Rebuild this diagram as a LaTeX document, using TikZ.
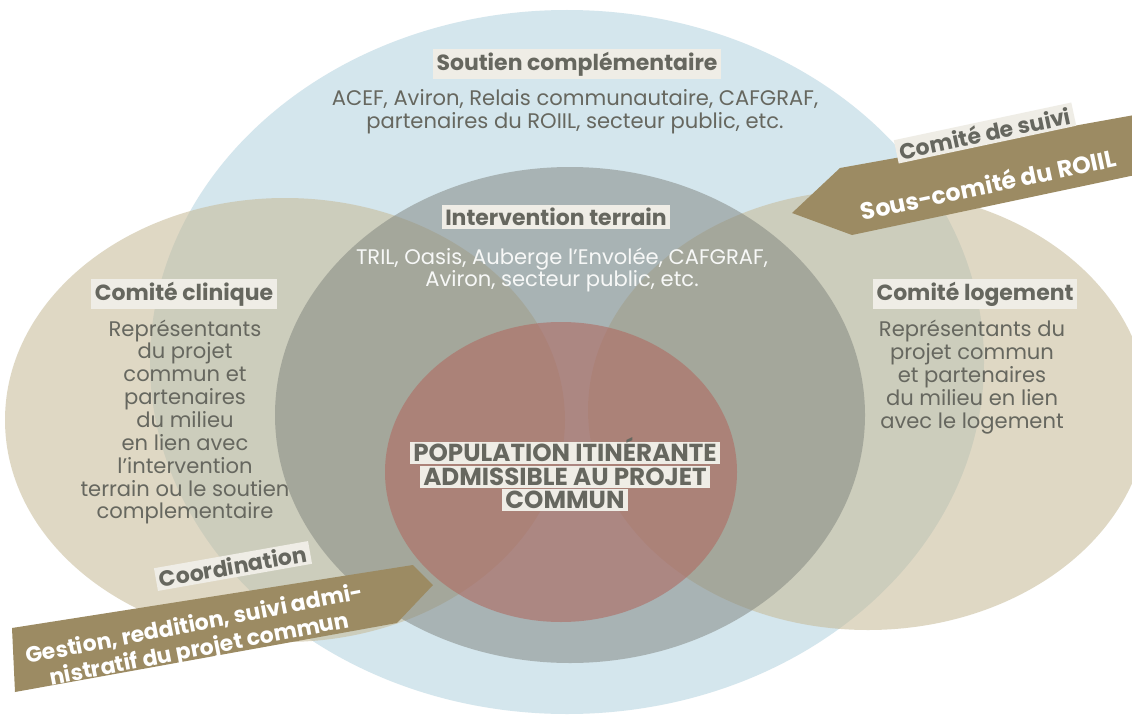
\documentclass[tikz,border=0pt]{standalone}
\usepackage{fontspec}
\setmainfont{Poppins}
\usepackage{tikz}

\definecolor{bleu}{HTML}{D4E6ED}
\definecolor{beige}{HTML}{C6B995}
\definecolor{gris}{HTML}{7E827C}
\definecolor{rouge}{HTML}{B06A62}
\definecolor{brun}{HTML}{9C8B63}
\definecolor{texte}{HTML}{66675F}
\definecolor{creme}{HTML}{EFEDE6}

\begin{document}
\begin{tikzpicture}[x = .02cm, y = -.02cm,
    titre/.style = {fill=creme, text=texte, inner xsep=2pt, inner ysep=1.5pt, font=\bfseries\fontsize{12.5}{14}\selectfont},
    corps/.style = {text=texte, align=center, font=\fontsize{12}{13}\selectfont},
    blanc/.style = {text=white, align=center, font=\bfseries\fontsize{13.5}{15}\selectfont},
    pop/.style = {titre, text height=10pt, text depth=0pt, inner ysep=1.3pt, font=\bfseries\fontsize{14}{15}\selectfont}]
        \useasboundingbox (0,0) rectangle (1132,723);
        \clip (0,0) rectangle (1132,723);
        \fill[white] (0,0) rectangle (1132,723);
        \fill[bleu] (567,362) ellipse [x radius=417, y radius=352];
        \fill[beige, opacity=.55] (285,420) ellipse [x radius=280, y radius=222];
        \fill[beige, opacity=.55] (868,410) ellipse [x radius=280, y radius=220];
        \fill[gris, opacity=.5] (570,415) ellipse [x radius=295, y radius=248];
        \fill[rouge, opacity=.6] (561,472) ellipse [x radius=176, y radius=150];
        \fill[brun] (792,213) -- (840,168) -- (1140,114) -- (1140,174) -- (852,235) -- cycle;
        \fill[brun] (12,628) -- (413,565) -- (433,585) -- (397,623) -- (15,692) -- cycle;
        \node[titre] (soutien) at (577,64) {Soutien complémentaire};
        \node[corps] (soutientxt) at (575,112) {ACEF, Aviron, Relais communautaire, CAFGRAF,\\partenaires du ROIIL, secteur public, etc.};
        \node[titre] (terrain) at (556,217) {Intervention terrain};
        \node[corps, text=white!94!gris] (terraintxt) at (562,270) {TRIL, Oasis, Auberge l'Envolée, CAFGRAF,\\Aviron, secteur public, etc.};
        \node[titre] (clinique) at (184,294) {Comité clinique};
        \node[corps] (cliniquetxt) at (185,422) {Représentants\\du projet\\commun et\\partenaires\\du milieu\\en lien avec\\l'intervention\\terrain ou le soutien\\complementaire};
        \node[titre] (logement) at (975,294) {Comité logement};
        \node[corps] (logementtxt) at (972,377) {Représentants du\\projet commun\\et partenaires\\du milieu en lien\\avec le logement};
        \node[pop] (pop1) at (565,453) {POPULATION ITINÉRANTE};
        \node[pop] (pop2) at (565,477) {ADMISSIBLE AU PROJET};
        \node[pop] (pop3) at (565,500) {COMMUN};
        \node[titre, rotate=12] (suivi) at (985,133) {Comité de suivi};
        \node[blanc, rotate=12] (roiil) at (988,184) {Sous-comité du ROIIL};
        \node[titre, rotate=10] (coord) at (233,566) {Coordination};
        \node[blanc, rotate=11, font=\bfseries\fontsize{12.5}{14.5}\selectfont] (gestion) at (197,638) {Gestion, reddition, suivi admi-\\nistratif du projet commun};
      \end{tikzpicture}
\end{document}
